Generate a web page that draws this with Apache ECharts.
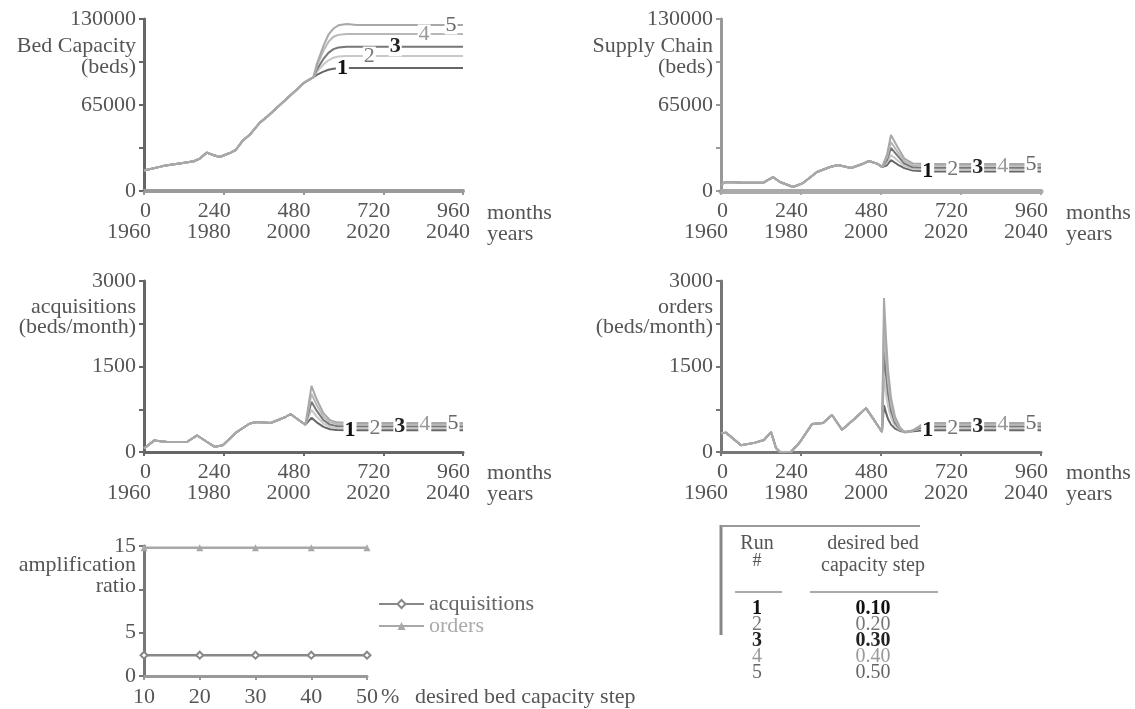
<!DOCTYPE html>
<html>
<head>
<meta charset="utf-8">
<script src="https://cdn.jsdelivr.net/npm/echarts@6/dist/echarts.min.js"></script>
<style>
  html, body { margin: 0; padding: 0; background: #fff; }
  #main { width: 1135px; height: 709px; }
</style>
</head>
<body>
<div id="main"></div>
<script>
var FONT = '"Liberation Serif", "DejaVu Serif", serif';

// ---- data ----
var runIds = ['1', '2', '3', '4', '5'];
var runSteps = ['0.10', '0.20', '0.30', '0.40', '0.50'];
var monthTicks = [0, 240, 480, 720, 960];
var yearLabels = ['1960', '1980', '2000', '2020', '2040'];

// bed capacity (beds), history common to all runs
var bedBase = [[0, 15500], [6, 16600], [60, 19000], [117, 21200], [150, 22500], [168, 24500],
  [189, 29000], [210, 27000], [228, 25700], [258, 28700], [276, 31000], [297, 38000],
  [318, 42500], [348, 51500], [372, 56500], [400, 63000], [426, 69000], [455, 75500],
  [480, 81500], [510, 86000]];
var bedRuns = [
  [[520, 87750], [540, 90200], [555, 91600], [570, 92440], [585, 92860], [610, 93000], [960, 93000]],
  [[520, 90000], [540, 95600], [555, 98800], [570, 100700], [585, 101700], [610, 102000], [960, 102000]],
  [[520, 91750], [540, 99800], [555, 104400], [570, 107200], [585, 108500], [610, 109000], [960, 109000]],
  [[520, 94200], [540, 106100], [555, 112700], [570, 116600], [585, 118000], [610, 118700], [960, 118700]],
  [[520, 95900], [540, 109700], [555, 118100], [570, 122800], [585, 125200], [610, 126300], [640, 125500], [960, 125500]]
];

// supply chain (beds)
var supplyBase = [[0, 4500], [12, 6800], [60, 6500], [126, 6200], [156, 10500], [177, 6800],
  [216, 3000], [246, 6000], [288, 14400], [327, 18100], [351, 19700], [390, 17400],
  [420, 20000], [444, 22700], [470, 20500], [483, 18100]];
var supplyRuns = [
  [[498, 19500], [510, 23400], [530, 20000], [550, 17300], [575, 15500], [620, 14800], [960, 14800]],
  [[498, 21500], [510, 27200], [530, 23000], [550, 19000], [575, 16600], [620, 16200], [960, 16200]],
  [[498, 23500], [510, 32500], [530, 26500], [550, 20800], [575, 17900], [620, 17600], [960, 17600]],
  [[498, 25500], [510, 37000], [530, 29500], [550, 22500], [575, 19300], [620, 19000], [960, 19000]],
  [[498, 27500], [510, 42300], [530, 33000], [550, 24500], [575, 20800], [620, 20400], [960, 20400]]
];

// acquisitions (beds/month)
var acqBase = [[0, 60], [30, 200], [70, 175], [130, 180], [160, 290], [190, 175], [213, 90],
  [237, 120], [279, 350], [318, 500], [339, 526], [381, 509], [426, 614], [441, 667],
  [474, 526], [486, 480]];
var acqRuns = [
  [[504, 600], [520, 520], [540, 440], [560, 400], [580, 385], [620, 380], [960, 380]],
  [[504, 740], [520, 620], [540, 500], [560, 440], [580, 420], [620, 420], [960, 420]],
  [[504, 880], [520, 720], [540, 560], [560, 480], [580, 455], [620, 450], [960, 450]],
  [[504, 1020], [520, 820], [540, 620], [560, 520], [580, 490], [620, 480], [960, 480]],
  [[504, 1160], [520, 920], [540, 680], [560, 560], [580, 520], [620, 510], [960, 510]]
];

// orders (beds/month)
var ordBase = [[0, 330], [15, 340], [60, 120], [100, 160], [129, 210], [150, 350], [165, 70],
  [177, 0], [210, 0], [237, 175], [273, 490], [306, 510], [333, 650], [363, 390],
  [400, 580], [435, 770], [465, 510], [483, 350]];
var ordRuns = [
  [[489, 820], [495, 690], [501, 580], [510, 480], [522, 410], [537, 370], [552, 350], [570, 360], [600, 375], [640, 380], [960, 380]],
  [[489, 1290], [495, 1020], [501, 800], [510, 600], [522, 460], [537, 385], [552, 355], [570, 370], [600, 410], [640, 420], [960, 420]],
  [[489, 1760], [495, 1350], [501, 1020], [510, 720], [522, 510], [537, 400], [552, 350], [570, 370], [600, 430], [640, 450], [960, 450]],
  [[489, 2230], [495, 1680], [501, 1240], [510, 830], [522, 560], [537, 410], [552, 345], [570, 365], [600, 450], [640, 480], [960, 480]],
  [[489, 2700], [495, 2000], [501, 1450], [510, 950], [522, 620], [537, 430], [552, 340], [570, 360], [600, 470], [640, 510], [960, 510]]
];

// where the run numbers sit along the lines (months)
var bedLabelMonths = [597, 678, 756, 843, 924];
var flatLabelMonths = [620, 695, 770, 845, 930];

// amplification ratio vs desired bed capacity step
var stepPct = [10, 20, 30, 40, 50];
var acqAmp = [2.4, 2.4, 2.4, 2.4, 2.4];
var ordAmp = [14.8, 14.8, 14.8, 14.8, 14.8];

var bedShown = [0, 65000, 130000];
var rateShown = [0, 1500, 3000];
var ampShown = [0, 5, 15];

// ---- styles ----
var runColors = ['#666', '#c8c8c8', '#777', '#b8b8b8', '#a8a8a8'];
var runLabelColors = ['#111', '#777', '#222', '#999', '#666'];
var runLabelWeights = ['bold', 'normal', 'bold', 'normal', 'normal'];

var grids = [
  { left: 144, top: 19, width: 319, height: 172 },
  { left: 721, top: 19, width: 320, height: 172 },
  { left: 144, top: 281, width: 319, height: 171 },
  { left: 721, top: 281, width: 320, height: 171 },
  { left: 144, top: 546, width: 223, height: 130 }
];

function timeAxis(gi, color, width) {
  return {
    type: 'value', gridIndex: gi, min: 0, max: 960, interval: 240,
    axisLine: { show: true, onZero: false, lineStyle: { color: color, width: width } },
    axisTick: { show: true, length: 4, lineStyle: { color: color, width: 2 } },
    splitLine: { show: false },
    axisLabel: {
      formatter: function (v) {
        var i = monthTicks.indexOf(v);
        return i < 0 ? '' : v + '\n' + yearLabels[i];
      },
      align: 'right', padding: [0, -7, 0, 0], margin: 10, lineHeight: 21,
      fontSize: 22, fontFamily: FONT, color: '#555'
    }
  };
}

function levelAxis(gi, max, interval, shown, color) {
  return {
    type: 'value', gridIndex: gi, min: 0, max: max, interval: interval,
    axisLine: { show: true, onZero: false, lineStyle: { color: color, width: 3 } },
    axisTick: { show: true, length: 5, lineStyle: { color: color, width: 2 } },
    splitLine: { show: false },
    axisLabel: {
      formatter: function (v) { return shown.indexOf(v) >= 0 ? String(v) : ''; },
      margin: 8, fontSize: 22, fontFamily: FONT, color: '#555'
    }
  };
}

function runSeries(gi, base, runs, labelMonths) {
  return runs.map(function (tail, k) {
    var last = tail[tail.length - 1][1];
    return {
      type: 'line', xAxisIndex: gi, yAxisIndex: gi,
      data: base.concat(tail),
      symbol: 'none', silent: true,
      lineStyle: { color: runColors[k], width: 2 },
      markPoint: {
        symbol: 'rect', symbolSize: [13, 19], silent: true,
        itemStyle: { color: '#fff' },
        label: {
          show: true, position: 'inside', formatter: runIds[k],
          fontSize: 22, fontFamily: FONT, fontWeight: runLabelWeights[k], color: runLabelColors[k]
        },
        data: [{ coord: [labelMonths[k], last] }]
      }
    };
  });
}

var series = []
  .concat(runSeries(0, bedBase, bedRuns, bedLabelMonths))
  .concat(runSeries(1, supplyBase, supplyRuns, flatLabelMonths))
  .concat(runSeries(2, acqBase, acqRuns, flatLabelMonths))
  .concat(runSeries(3, ordBase, ordRuns, flatLabelMonths));

series.push({
  name: 'acquisitions', type: 'line', xAxisIndex: 4, yAxisIndex: 4,
  data: stepPct.map(function (s, i) { return [s, acqAmp[i]]; }),
  symbol: 'emptyDiamond', symbolSize: 7,
  lineStyle: { color: '#888', width: 2.5 }, itemStyle: { color: '#888' }
});
series.push({
  name: 'orders', type: 'line', xAxisIndex: 4, yAxisIndex: 4,
  data: stepPct.map(function (s, i) { return [s, ordAmp[i]]; }),
  symbol: 'triangle', symbolSize: 7,
  lineStyle: { color: '#a8a8a8', width: 2.5 }, itemStyle: { color: '#a8a8a8' }
});

// ---- text placed around the plots ----
function txt(x, y, s, align, opt) {
  opt = opt || {};
  return {
    type: 'text', x: x, y: y, silent: true,
    style: {
      text: s, fill: opt.color || '#555',
      font: (opt.weight || 'normal') + ' ' + (opt.size || 22) + 'px ' + FONT,
      align: align, verticalAlign: 'middle',
      textAlign: align, textVerticalAlign: 'middle'
    }
  };
}
function seg(x1, y1, x2, y2, color, w) {
  return { type: 'line', silent: true, shape: { x1: x1, y1: y1, x2: x2, y2: y2 },
    style: { stroke: color, lineWidth: w } };
}

var graphics = [
  txt(136, 46, 'Bed Capacity', 'right'), txt(136, 67, '(beds)', 'right'),
  txt(713, 46, 'Supply Chain', 'right'), txt(713, 67, '(beds)', 'right'),
  txt(136, 307, 'acquisitions', 'right'), txt(136, 327, '(beds/month)', 'right'),
  txt(713, 307, 'orders', 'right'), txt(713, 327, '(beds/month)', 'right'),
  txt(136, 565, 'amplification', 'right'), txt(136, 586, 'ratio', 'right'),
  txt(487, 213, 'months', 'left'), txt(487, 234, 'years', 'left'),
  txt(1066, 213, 'months', 'left'), txt(1066, 234, 'years', 'left'),
  txt(487, 473, 'months', 'left'), txt(487, 494, 'years', 'left'),
  txt(1066, 473, 'months', 'left'), txt(1066, 494, 'years', 'left'),
  txt(381, 697, '%', 'left'), txt(415, 697, 'desired bed capacity step', 'left'),
  // table
  seg(721, 525, 721, 635, '#888', 3), seg(721, 526, 920, 526, '#999', 2),
  seg(735, 592, 782, 592, '#aaa', 2), seg(810, 592, 938, 592, '#aaa', 2),
  txt(757, 544, 'Run', 'center', { size: 20 }), txt(757, 561, '#', 'center', { size: 18 }),
  txt(873, 544, 'desired bed', 'center', { size: 20 }), txt(873, 566, 'capacity step', 'center', { size: 20 })
];
var rowY = [609, 625, 641, 657, 673];
runIds.forEach(function (id, k) {
  var o = { size: 20, color: runLabelColors[k], weight: runLabelWeights[k] };
  graphics.push(txt(757, rowY[k], id, 'center', o));
  graphics.push(txt(873, rowY[k], runSteps[k], 'center', o));
});

var chart = echarts.init(document.getElementById('main'), null, { renderer: 'canvas' });
chart.setOption({
  animation: false,
  backgroundColor: '#fff',
  grid: grids,
  xAxis: [
    timeAxis(0, '#9a9a9a', 4),
    timeAxis(1, '#aaa', 5),
    timeAxis(2, '#666', 3),
    timeAxis(3, '#777', 3),
    {
      type: 'value', gridIndex: 4, min: 10, max: 50, interval: 10,
      axisLine: { show: true, onZero: false, lineStyle: { color: '#999', width: 3 } },
      axisTick: { show: true, length: 4, lineStyle: { color: '#999', width: 2 } },
      splitLine: { show: false },
      axisLabel: { margin: 10, fontSize: 22, fontFamily: FONT, color: '#555' }
    }
  ],
  yAxis: [
    levelAxis(0, 130000, 32500, bedShown, '#666'),
    levelAxis(1, 130000, 32500, bedShown, '#999'),
    levelAxis(2, 3000, 750, rateShown, '#666'),
    levelAxis(3, 3000, 750, rateShown, '#777'),
    levelAxis(4, 15, 5, ampShown, '#777')
  ],
  legend: {
    left: 373, top: 588, orient: 'vertical',
    itemWidth: 45, itemHeight: 10, itemGap: 0,
    textStyle: { fontSize: 22, fontFamily: FONT, lineHeight: 21 },
    data: [
      { name: 'acquisitions', textStyle: { color: '#666' } },
      { name: 'orders', textStyle: { color: '#aaa' } }
    ]
  },
  series: series,
  graphic: graphics
});
</script>
</body>
</html>
